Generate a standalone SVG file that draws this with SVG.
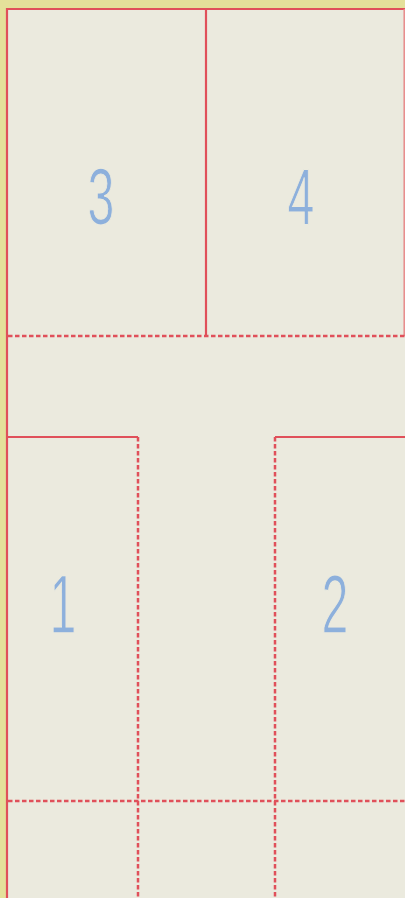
<svg xmlns="http://www.w3.org/2000/svg" width="405" height="898" viewBox="0 0 405 898">
  <style>
    .solid { stroke: #e0505a; stroke-width: 2.2; fill: none; }
    .dash { stroke: #e0505a; stroke-width: 2.5; fill: none; stroke-dasharray: 4.5 2.5; }
    .edge { stroke: #e88a8a; stroke-width: 1.5; fill: none; }
    .num { font-family: "Liberation Sans", Arial, sans-serif; font-size: 78px; fill: #8db0dc; stroke: #ebeade; stroke-width: 1.2; text-anchor: middle; }
  </style>
  <rect x="0" y="0" width="405" height="898" fill="#e4e09a"/>
  <rect x="7" y="9" width="398" height="889" fill="#ebeade"/>

  <g id="connectors">
    <path class="solid" d="M7,898 V9 H405"/>
    <line class="edge" x1="404.2" y1="9" x2="404.2" y2="336"/>
    <line class="solid" x1="206" y1="9" x2="206" y2="336"/>
    <line class="dash" x1="8" y1="336" x2="405" y2="336"/>
    <path class="solid" d="M8,437 H138"/>
    <line class="dash" x1="138" y1="437" x2="138" y2="898"/>
    <path class="solid" d="M275,437 H405"/>
    <line class="dash" x1="275" y1="437" x2="275" y2="898"/>
    <line class="dash" x1="8" y1="801" x2="405" y2="801"/>
  </g>

  <g id="node-3">
    <text class="num" transform="translate(101,224) scale(0.62,1.02)">3</text>
  </g>
  <g id="node-4">
    <text class="num" transform="translate(301,224) scale(0.62,1.02)">4</text>
  </g>
  <g id="node-1">
    <text class="num" transform="translate(63,633) scale(0.62,1.07)">1</text>
  </g>
  <g id="node-2">
    <text class="num" transform="translate(335,633) scale(0.62,1.07)">2</text>
  </g>
</svg>
